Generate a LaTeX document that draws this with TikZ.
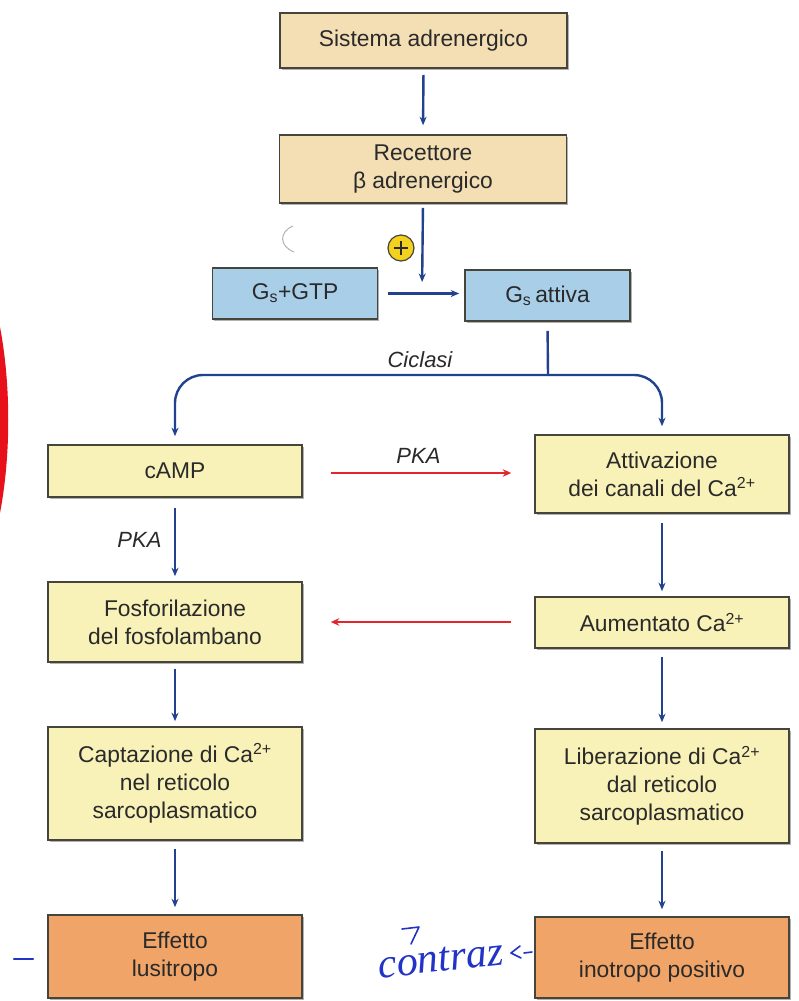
\documentclass[tikz,border=0pt]{standalone}
\usepackage{fontspec}
\setmainfont{Liberation Sans}
\newfontfamily\handfont{Liberation Serif}
\usetikzlibrary{arrows.meta,shadows}

\definecolor{boxbeige}{HTML}{F4DFB4}
\definecolor{boxblue}{HTML}{A9CFE8}
\definecolor{boxyellow}{HTML}{F8F1B8}
\definecolor{boxorange}{HTML}{F0A468}
\definecolor{boxline}{HTML}{45453C}
\definecolor{textdark}{HTML}{2A2A2A}
\definecolor{flowblue}{HTML}{22418E}
\definecolor{flowred}{HTML}{E2262B}
\definecolor{plusyellow}{HTML}{F2D21C}
\definecolor{inkblue}{HTML}{2233C8}
\definecolor{markred}{HTML}{E8101A}

\newcommand\bxfont{\fontsize{22.8}{28}\selectfont}
\newcommand\lblfont{\fontsize{22}{26}\selectfont\itshape}

\begin{document}
\begin{tikzpicture}[x=1pt,y=-1pt,
  box/.style={rectangle, draw=boxline, line width=1.6pt, align=center,
    text=textdark, font=\bxfont, inner sep=2pt,
    drop shadow={shadow xshift=1.6pt, shadow yshift=-1.6pt, fill=black!55, opacity=0.55}},
  topbox/.style={box, fill=boxbeige, minimum width=287pt},
  gbox/.style={box, fill=boxblue, minimum width=165pt, minimum height=51pt},
  ybox/.style={box, fill=boxyellow, minimum width=254pt},
  obox/.style={box, fill=boxorange, minimum width=254pt},
  flow/.style={draw=flowblue, line width=2.4pt, -{Stealth[length=8.5pt,width=7pt]}},
  flowline/.style={draw=flowblue, line width=2.4pt},
  redflow/.style={draw=flowred, line width=2.8pt, -{Stealth[length=8.5pt,width=7.5pt]}},
  lbl/.style={font=\lblfont, text=textdark},
  ink/.style={draw=inkblue, line width=1.6pt, line cap=round, line join=round}
]
\useasboundingbox (0,0) rectangle (798,1001);
\fill[white] (0,0) rectangle (798,1001);

% marks on the margins
\fill[markred] (0,327) .. controls (11,385) and (11,455) .. (0,513) -- cycle;
\draw[black!30, line width=1pt] (293,226) .. controls (279,232) and (279,246) .. (294,252);

% boxes
\node[topbox, minimum height=55pt] (sys) at (423.5,40.5) {Sistema adrenergico};
\node[topbox, minimum height=68pt] (rec) at (423,169) {Recettore\\β adrenergico};
\node[gbox] (gs)  at (295,293.5) {G\textsubscript{s}+GTP};
\node[gbox] (gsa) at (547.5,295.5) {G\textsubscript{s}\,attiva};

\node[ybox, minimum height=52pt]  (camp) at (175,471) {cAMP};
\node[ybox, minimum height=78pt]  (att)  at (662,474) {Attivazione\\dei canali del Ca\textsuperscript{2+}};
\node[ybox, minimum height=80pt]  (fos)  at (175,622) {Fosforilazione\\del fosfolambano};
\node[ybox, minimum height=51pt]  (aum)  at (662,622.5) {Aumentato Ca\textsuperscript{2+}};
\node[ybox, minimum height=113pt] (cap)  at (175,783.5) {Captazione di Ca\textsuperscript{2+}\\nel reticolo\\sarcoplasmatico};
\node[ybox, minimum height=114pt] (lib)  at (662,786) {Liberazione di Ca\textsuperscript{2+}\\dal reticolo\\sarcoplasmatico};
\node[obox, minimum height=83pt]  (lus)  at (175,956.5) {Effetto\\lusitropo};
\node[obox, minimum height=81pt]  (ino)  at (662,957.5) {Effetto\\inotropo positivo};

% stimulation sign
\node[circle, draw=boxline, line width=1.2pt, fill=plusyellow, minimum size=26pt, inner sep=0pt] (plus) at (401,248) {};
\draw[textdark, line width=1.8pt] ([xshift=-7pt]plus.center) -- ([xshift=7pt]plus.center);
\draw[textdark, line width=1.8pt] ([yshift=-7pt]plus.center) -- ([yshift=7pt]plus.center);

% junction points
\coordinate (join) at (422,294);
\coordinate (branch) at (548,375);

% adrenergic cascade
\draw[flow, shorten <=6pt, shorten >=9pt] (sys.south) -- (rec.north);
\draw[flow, shorten <=4pt, shorten >=12pt] (rec.south) -- (join);
\draw[flow, shorten <=10pt, shorten >=5pt] (gs.east) -- (gsa.west |- gs.east);
\draw[flowline, shorten <=9pt] (gsa.south) -- (branch);
\draw[flow, rounded corners=28pt, shorten >=8pt] (branch) -| (camp.north);
\draw[flow, rounded corners=28pt, shorten >=8pt] (branch) -| (att.north);
\node[lbl] (ciclasi) at (420,360) {Ciclasi};

% left column
\draw[flow, shorten <=10pt, shorten >=5pt] (camp.south) -- node[lbl, left=9pt] {PKA} (fos.north);
\draw[flow, shorten <=6pt, shorten >=5pt] (fos.south) -- (cap.north);
\draw[flow, shorten <=8pt, shorten >=7pt] (cap.south) -- (lus.north);

% right column
\draw[flow, shorten <=9pt, shorten >=5pt] (att.south) -- (aum.north);
\draw[flow, shorten <=8pt, shorten >=6pt] (aum.south) -- (lib.north);
\draw[flow, shorten <=7pt, shorten >=7pt] (lib.south) -- (ino.north);

% cross links
\draw[redflow, shorten <=28pt, shorten >=23pt] (camp.east |- 0,473) -- node[lbl, above=5pt] {PKA} (att.west |- 0,473);
\draw[redflow, shorten <=23pt, shorten >=28pt] (aum.west |- 0,622) -- (fos.east |- 0,622);

% handwritten notes
\draw[ink, line width=2.4pt] (14,959) -- (33,959);
\node[text=inkblue, font=\handfont\fontsize{42}{42}\selectfont\itshape, rotate=6, inner sep=0pt] (note) at (441,960) {contraz};
\draw[ink] (402,929) -- (419,927) -- (411,944);
\draw[ink] (520,946) -- (511,953) -- (521,958);
\draw[ink] (524,953) -- (532,952);
\end{tikzpicture}
\end{document}
